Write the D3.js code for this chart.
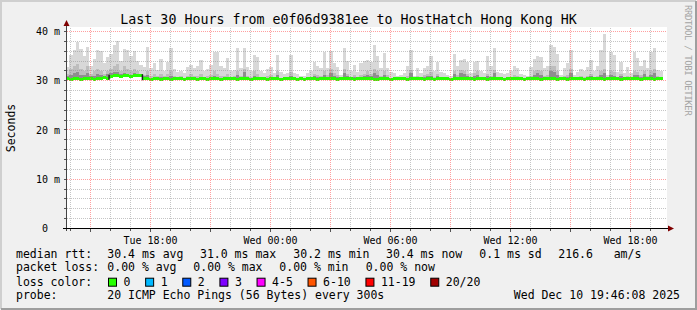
<!DOCTYPE html>
<html>
<head>
<meta charset="utf-8">
<script src="https://cdn.jsdelivr.net/npm/d3@7"></script>
<style>
body { margin: 0; background: #f0f0f0; }
svg text { font-family: "DejaVu Sans Mono", monospace; white-space: pre; }
</style>
</head>
<body>
<svg id="chart" width="697" height="310"></svg>
<script>
// smokeping style graph: last 30 hours, 10 minute steps

var titleText = "Last 30 Hours from e0f06d9381ee to HostHatch Hong Kong HK";
var yAxisTitle = "Seconds";
var watermark = "RRDTOOL / TOBI OETIKER";
var endTime = new Date(2025, 11, 10, 19, 48);
var stepMinutes = 10;

var yTicks = [0, 10, 20, 30, 40];
var yTickLabels = ["0", "10 m", "20 m", "30 m", "40 m"];
var xTickTimes = [new Date(2025, 11, 9, 18, 0), new Date(2025, 11, 10, 0, 0),
                  new Date(2025, 11, 10, 6, 0), new Date(2025, 11, 10, 12, 0),
                  new Date(2025, 11, 10, 18, 0)];
var xTickLabels = ["Tue 18:00", "Wed 00:00", "Wed 06:00", "Wed 12:00", "Wed 18:00"];

// median rtt per step (ms)
var medianRtt = [
  30.4, 30.3, 30.4, 30.4, 30.3, 30.4, 30.5, 30.4, 30.3, 30.4,
  30.4, 30.6, 30.5, 30.9, 31.0, 31.0, 30.9, 31.0, 31.0, 30.8,
  31.0, 31.0, 31.0, 30.4, 30.4, 30.3, 30.4, 30.4, 30.2, 30.4,
  30.4, 30.3, 30.4, 30.4, 30.4, 30.3, 30.4, 30.4, 30.4, 30.3,
  30.4, 30.4, 30.3, 30.4, 30.4, 30.4, 30.3, 30.4, 30.4, 30.4,
  30.4, 30.3, 30.4, 30.4, 30.4, 30.3, 30.4, 30.4, 30.4, 30.4,
  30.3, 30.4, 30.4, 30.4, 30.3, 30.4, 30.4, 30.4, 30.4, 30.3,
  30.4, 30.2, 30.4, 30.4, 30.4, 30.3, 30.4, 30.4, 30.4, 30.4,
  30.4, 30.3, 30.4, 30.4, 30.4, 30.4, 30.3, 30.4, 30.4, 30.4,
  30.4, 30.4, 30.3, 30.2, 30.4, 30.4, 30.4, 30.3, 30.4, 30.4,
  30.4, 30.4, 30.3, 30.4, 30.4, 30.4, 30.4, 30.3, 30.4, 30.4,
  30.3, 30.4, 30.4, 30.4, 30.4, 30.3, 30.4, 30.4, 30.4, 30.4,
  30.4, 30.4, 30.3, 30.4, 30.4, 30.4, 30.3, 30.4, 30.4, 30.4,
  30.4, 30.3, 30.4, 30.4, 30.4, 30.4, 30.4, 30.3, 30.4, 30.4,
  30.4, 30.4, 30.3, 30.4, 30.4, 30.4, 30.4, 30.3, 30.4, 30.4,
  30.3, 30.4, 30.4, 30.4, 30.4, 30.3, 30.4, 30.4, 30.4, 30.4,
  30.4, 30.3, 30.4, 30.4, 30.4, 30.4, 30.3, 30.4, 30.4, 30.4,
  30.4, 30.4, 30.3, 30.4, 30.4, 30.4, 30.3, 30.4, 30.4, null
];

// smoke: top of the dark, middle and light bands (ms)
var smokeDark = [
  30.9, 31.2, 31.5, 31.7, 31.2, 31.2, 31.5, 30.9, 31.0, 31.3,
  31.2, 30.9, 31.3, 31.5, 31.7, 31.7, 31.3, 31.5, 31.3, 31.2,
  31.5, 31.2, 31.1, 30.9, 31.2, 30.6, 30.7, 30.5, 30.7, 30.5,
  30.7, 30.9, 30.5, 30.4, 30.5, 30.4, 30.6, 30.7, 30.5, 30.6,
  30.7, 30.5, 30.5, 30.7, 31.0, 30.7, 30.6, 30.5, 30.7, 30.4,
  30.5, 31.2, 30.5, 31.7, 30.6, 30.4, 31.0, 30.7, 30.4, 30.3,
  30.5, 30.7, 30.3, 31.2, 30.4, 30.3, 30.3, 31.0, 30.4, 30.3,
  30.3, 30.3, 30.3, 30.5, 30.9, 30.7, 30.6, 31.2, 30.7, 31.5,
  31.0, 30.7, 30.3, 31.5, 30.9, 30.5, 30.7, 30.4, 30.7, 30.9,
  31.2, 30.9, 31.5, 31.2, 30.6, 31.2, 30.7, 30.4, 30.3, 30.3,
  30.3, 30.3, 30.6, 31.5, 30.3, 30.6, 30.3, 30.7, 30.9, 31.0,
  30.5, 30.9, 30.4, 30.3, 30.3, 30.3, 31.3, 30.7, 31.5, 31.3,
  30.9, 30.3, 31.0, 31.2, 30.5, 30.3, 30.9, 30.6, 31.5, 30.4,
  30.3, 30.3, 30.3, 30.5, 30.7, 30.6, 30.3, 30.3, 30.3, 30.6,
  31.2, 31.5, 31.2, 30.6, 30.7, 31.9, 31.7, 31.2, 30.3, 30.6,
  30.7, 31.5, 30.3, 30.4, 30.6, 30.5, 30.6, 30.9, 30.5, 30.6,
  31.2, 31.5, 30.3, 31.2, 31.0, 30.4, 30.9, 30.3, 30.7, 30.3,
  31.2, 31.1, 30.7, 31.3, 30.6, 31.2, 31.5, 30.6, 30.5, null
];
var smokeMid = [
  31.4, 32.4, 32.9, 33.4, 32.4, 31.9, 32.9, 31.4, 31.9, 32.4,
  31.9, 31.4, 31.9, 32.4, 32.9, 33.4, 31.9, 32.9, 32.4, 31.9,
  32.4, 31.9, 31.4, 31.2, 31.9, 31.0, 31.4, 30.9, 31.4, 30.9,
  31.4, 31.9, 30.9, 30.7, 30.9, 30.6, 31.0, 31.4, 30.9, 31.0,
  31.4, 30.8, 30.9, 31.2, 31.9, 31.4, 31.0, 30.9, 31.4, 30.7,
  30.9, 31.9, 30.9, 32.4, 31.0, 30.7, 31.9, 31.4, 30.7, 30.6,
  30.9, 31.2, 30.6, 31.9, 30.6, 30.6, 30.6, 31.7, 30.6, 30.6,
  30.6, 30.6, 30.6, 30.7, 31.4, 31.2, 30.9, 31.9, 31.2, 32.4,
  31.6, 31.2, 30.6, 32.4, 31.4, 30.7, 31.2, 30.6, 31.2, 31.4,
  31.9, 31.4, 32.4, 31.9, 30.9, 31.9, 31.2, 30.6, 30.6, 30.6,
  30.6, 30.6, 30.9, 32.2, 30.6, 31.0, 30.6, 31.2, 31.4, 31.7,
  30.7, 31.4, 30.6, 30.6, 30.6, 30.6, 31.9, 31.2, 32.2, 32.0,
  31.4, 30.6, 31.6, 31.9, 30.7, 30.6, 31.4, 30.9, 32.2, 30.6,
  30.6, 30.6, 30.6, 30.7, 31.2, 30.9, 30.6, 30.6, 30.6, 31.0,
  31.9, 32.2, 31.9, 31.0, 31.2, 32.9, 32.9, 31.9, 30.6, 30.9,
  31.2, 32.4, 30.6, 30.6, 30.9, 30.7, 31.0, 31.4, 30.7, 31.0,
  31.9, 32.4, 30.6, 31.9, 31.7, 30.6, 31.4, 30.6, 31.0, 30.6,
  31.9, 31.7, 31.2, 31.9, 31.0, 31.9, 32.4, 30.9, 30.7, null
];
var smokeMax = [
  32.8, 35.2, 36.2, 37.8, 36.5, 35.0, 36.9, 33.0, 34.5, 36.2,
  36.0, 33.5, 34.8, 35.5, 37.2, 38.0, 34.0, 36.5, 36.2, 35.0,
  36.1, 34.0, 33.2, 32.8, 36.8, 32.6, 33.5, 32.2, 34.5, 32.0,
  33.8, 36.6, 32.3, 31.8, 32.0, 31.6, 32.8, 33.2, 32.6, 33.0,
  34.2, 32.0, 32.4, 33.2, 35.9, 35.9, 33.0, 32.5, 34.6, 32.0,
  32.2, 36.6, 32.5, 36.6, 32.8, 32.0, 35.3, 34.8, 32.0, 31.6,
  32.3, 32.8, 31.5, 35.2, 31.8, 31.3, 31.5, 35.2, 31.6, 31.3,
  31.0, 30.9, 31.5, 32.0, 33.8, 33.0, 32.6, 35.8, 32.5, 36.1,
  33.5, 32.8, 31.2, 36.6, 34.0, 32.0, 33.2, 31.8, 33.5, 34.0,
  34.2, 33.8, 37.2, 35.0, 32.5, 35.6, 32.6, 31.8, 31.5, 31.0,
  31.2, 31.6, 33.0, 36.2, 31.0, 32.6, 31.5, 32.6, 33.0, 35.0,
  32.0, 33.8, 31.8, 31.5, 31.2, 31.0, 35.5, 33.0, 34.2, 34.5,
  33.8, 31.5, 33.8, 34.0, 32.0, 31.6, 35.0, 33.0, 36.6, 31.8,
  31.5, 31.3, 31.6, 32.0, 33.0, 32.6, 31.3, 31.2, 31.0, 32.8,
  34.5, 35.0, 34.8, 32.5, 33.0, 37.2, 36.8, 35.5, 31.2, 32.6,
  33.5, 36.2, 31.2, 31.8, 32.3, 32.0, 32.8, 34.3, 32.0, 33.0,
  36.2, 39.5, 31.2, 35.8, 35.2, 31.8, 33.8, 31.5, 32.8, 31.5,
  35.9, 34.6, 33.0, 34.2, 32.5, 35.8, 36.6, 32.2, 32.0, null
];

var rttStats = ["30.4 ms avg", "31.0 ms max", "30.2 ms min", "30.4 ms now", "0.1 ms sd", "216.6   am/s"];
var lossStats = ["0.00 % avg", "0.00 % max", "0.00 % min", "0.00 % now"];
var lossLabels = ["0", "1", "2", "3", "4-5", "6-10", "11-19", "20/20"];
var lossColors = ["#26ff00", "#00b8ff", "#0059ff", "#7e00ff", "#ff00ff", "#ff5500", "#ff0000", "#a00000"];
var probeText = "20 ICMP Echo Pings (56 Bytes) every 300s";
var stampText = "Wed Dec 10 19:46:08 2025";

var svg = d3.select("#chart");
var W = 697, H = 310;
var plotL = 66, plotR = 666, plotT = 28, plotB = 228;

var startTime = d3.timeMinute.offset(endTime, -30 * 60);
var x = d3.scaleTime().domain([startTime, endTime]).range([plotL, plotR]);
var y = d3.scaleLinear().domain([0, 40.6]).range([plotB + 0.5, plotT + 0.5]);

function binTime(i) { return d3.timeMinute.offset(startTime, i * stepMinutes); }

// background + 3d frame
svg.append("rect").attr("width", W).attr("height", H).attr("fill", "#f0f0f0");
svg.append("path").attr("d", "M1,309V1H696").attr("fill", "none").attr("stroke", "#cfcfcf").attr("stroke-width", 2);
svg.append("path").attr("d", "M1,309H696V1").attr("fill", "none").attr("stroke", "#9e9e9e").attr("stroke-width", 2);

// canvas
svg.append("rect").attr("x", plotL).attr("y", plotT - 1)
  .attr("width", plotR - plotL + 1).attr("height", plotB - plotT + 2)
  .attr("fill", "#ffffff");

// smoke layers
function smokeLayer(values, color) {
  var rows = values.map(function(v, i) { return {v: v, m: medianRtt[i], i: i}; })
    .filter(function(d) { return d.v != null && d.m != null && d.v > d.m; });
  svg.append("g").selectAll("rect")
    .data(rows)
    .enter().append("rect")
    .attr("x", function(d) { return x(binTime(d.i)); })
    .attr("width", function(d) { return x(binTime(d.i + 1)) - x(binTime(d.i)); })
    .attr("y", function(d) { return y(d.v); })
    .attr("height", function(d) { return y(d.m) - y(d.v); })
    .attr("fill", color)
    .attr("shape-rendering", "crispEdges");
}
smokeLayer(smokeMax, "#d8d8d8");
smokeLayer(smokeMid, "#bdbdbd");
smokeLayer(smokeDark, "#8e8e8e");

// median band, coloured by loss (all 0 here)
var medRows = medianRtt.map(function(m, i) { return {m: m, i: i}; }).filter(function(d) { return d.m != null; });
svg.append("g").selectAll("rect")
  .data(medRows)
  .enter().append("rect")
  .attr("x", function(d) { return x(binTime(d.i)); })
  .attr("width", function(d) { return x(binTime(d.i + 1)) - x(binTime(d.i)); })
  .attr("y", function(d) { return y(d.m) - 1.5; })
  .attr("height", 3)
  .attr("fill", lossColors[0])
  .attr("shape-rendering", "crispEdges");

// dark marks where the median steps
var steps = medRows.filter(function(d) {
  return d.i > 0 && medianRtt[d.i - 1] != null && Math.abs(d.m - medianRtt[d.i - 1]) >= 0.3;
});
svg.append("g").selectAll("rect")
  .data(steps)
  .enter().append("rect")
  .attr("x", function(d) { return x(binTime(d.i)) - 1; })
  .attr("width", 1.5)
  .attr("y", function(d) { return Math.min(y(d.m), y(medianRtt[d.i - 1])) - 1.5; })
  .attr("height", function(d) { return Math.abs(y(d.m) - y(medianRtt[d.i - 1])) + 3; })
  .attr("fill", "#202020");

// grid (drawn on top of the data like rrdtool)
var hours = d3.timeHour.range(d3.timeMinute.offset(startTime, 1), endTime);
var grid = svg.append("g");
grid.selectAll("line.v")
  .data(hours)
  .enter().append("line")
  .attr("x1", function(d) { return Math.round(x(d)) + 0.5; })
  .attr("x2", function(d) { return Math.round(x(d)) + 0.5; })
  .attr("y1", plotT).attr("y2", plotB)
  .attr("stroke", function(d) { return d.getHours() % 3 == 0 ? "rgba(255,95,95,0.6)" : "rgba(140,140,140,0.5)"; })
  .attr("stroke-dasharray", "1,1");

var yGrid = d3.range(2, 41, 2);
grid.selectAll("line.h")
  .data(yGrid)
  .enter().append("line")
  .attr("x1", plotL + 1).attr("x2", plotR + 1)
  .attr("y1", function(d) { return Math.round(y(d) - 0.5) + 0.5; })
  .attr("y2", function(d) { return Math.round(y(d) - 0.5) + 0.5; })
  .attr("stroke", function(d) { return d % 10 == 0 ? "rgba(255,95,95,0.6)" : "rgba(140,140,140,0.5)"; })
  .attr("stroke-dasharray", "1,1");

// small ticks on the axes
grid.selectAll("line.xt")
  .data(hours)
  .enter().append("line")
  .attr("x1", function(d) { return Math.round(x(d)) + 0.5; })
  .attr("x2", function(d) { return Math.round(x(d)) + 0.5; })
  .attr("y1", plotB).attr("y2", function(d) { return d.getHours() % 3 == 0 ? plotB + 4 : plotB + 3; })
  .attr("stroke", "#555");
grid.selectAll("line.yt")
  .data(yGrid)
  .enter().append("line")
  .attr("x1", plotL - 2).attr("x2", plotL)
  .attr("y1", function(d) { return Math.round(y(d) - 0.5) + 0.5; })
  .attr("y2", function(d) { return Math.round(y(d) - 0.5) + 0.5; })
  .attr("stroke", "#555");

// axes lines and arrows
svg.append("line").attr("x1", plotL + 0.5).attr("x2", plotL + 0.5)
  .attr("y1", plotB + 3).attr("y2", 24).attr("stroke", "#444");
svg.append("line").attr("x1", plotL - 3).attr("x2", 670)
  .attr("y1", plotB + 0.5).attr("y2", plotB + 0.5).attr("stroke", "#000");
svg.append("path").attr("d", "M63.5,26L66.5,20L69.5,26Z").attr("fill", "#7f0000");
svg.append("path").attr("d", "M668,225.5L674,228.5L668,231.5Z").attr("fill", "#7f0000");

// axis labels via d3 axes
var xAxis = svg.append("g")
  .attr("transform", "translate(0," + plotB + ")")
  .call(d3.axisBottom(x).tickValues(xTickTimes)
    .tickFormat(function(d, i) { return xTickLabels[i]; })
    .tickSize(0).tickPadding(9));
xAxis.select(".domain").remove();
xAxis.selectAll("text").attr("font-family", "DejaVu Sans Mono").attr("font-size", 10).attr("fill", "#000");

var yAxis = svg.append("g")
  .attr("transform", "translate(" + (plotL - 6) + ",0)")
  .call(d3.axisLeft(y).tickValues(yTicks)
    .tickFormat(function(d, i) { return yTickLabels[i].length < 4 ? yTickLabels[i] + "  " : yTickLabels[i]; })
    .tickSize(0).tickPadding(0));
yAxis.select(".domain").remove();
yAxis.selectAll("text").attr("font-family", "DejaVu Sans Mono").attr("font-size", 10).attr("fill", "#000");

// titles
svg.append("text").text(titleText)
  .attr("x", W / 2).attr("y", 24)
  .attr("text-anchor", "middle").attr("font-size", 13.3).attr("fill", "#000");
svg.append("text").text(yAxisTitle)
  .attr("transform", "translate(15,128)rotate(-90)")
  .attr("text-anchor", "middle").attr("font-size", 11.5).attr("fill", "#000");
svg.append("text").text(watermark)
  .attr("transform", "translate(685,5)rotate(90)")
  .attr("font-size", 9).attr("letter-spacing", -0.4).attr("fill", "#a4a4a4");

// legend
var legend = svg.append("g").attr("font-size", 11.5).attr("fill", "#000");
var rowY = [257.5, 271, 285.7, 299];
legend.append("text").text("median rtt:").attr("x", 16).attr("y", rowY[0]);
var rttX = [107.3, 200, 293.3, 386, 479.3, 558.3];
legend.selectAll("text.rtt")
  .data(rttStats)
  .enter().append("text")
  .attr("x", function(d, i) { return rttX[i]; })
  .attr("y", rowY[0])
  .text(function(d) { return d; });

legend.append("text").text("packet loss:").attr("x", 16).attr("y", rowY[1]);
var lossX = [107.3, 193.3, 279.3, 365.7];
legend.selectAll("text.loss")
  .data(lossStats)
  .enter().append("text")
  .attr("x", function(d, i) { return lossX[i]; })
  .attr("y", rowY[1])
  .text(function(d) { return d; });

legend.append("text").text("loss color:").attr("x", 16).attr("y", rowY[2]);
var cursor = 108.5;
lossLabels.forEach(function(lab, i) {
  legend.append("rect")
    .attr("x", cursor).attr("y", rowY[2] - 7.5)
    .attr("width", 8).attr("height", 8)
    .attr("fill", lossColors[i]).attr("stroke", "#000").attr("stroke-width", 1);
  var t = legend.append("text").text(lab).attr("x", cursor + 15).attr("y", rowY[2]);
  cursor = cursor + 15 + t.node().getComputedTextLength() + 15.2;
});

legend.append("text").text("probe:").attr("x", 16).attr("y", rowY[3]);
legend.append("text").text(probeText).attr("x", 107.3).attr("y", rowY[3]);
legend.append("text").text(stampText).attr("x", 680).attr("y", rowY[3]).attr("text-anchor", "end");
</script>
</body>
</html>
